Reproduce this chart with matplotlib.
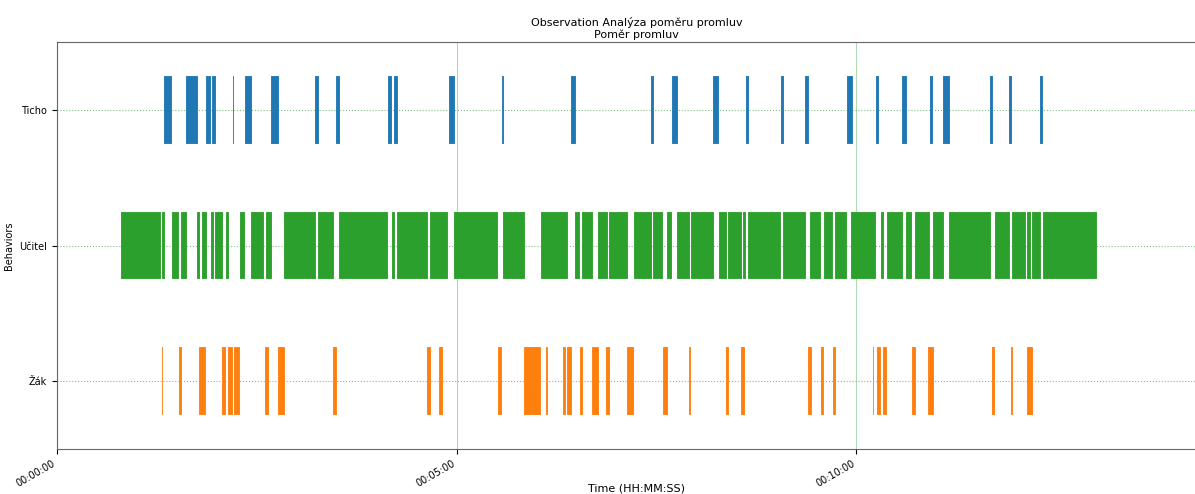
import matplotlib
matplotlib.use("Agg")
import matplotlib.pyplot as plt
from matplotlib.ticker import FuncFormatter

behaviors = ["Žák", "Učitel", "Ticho"]
colors = ["tab:orange", "tab:green", "tab:blue"]

# (start s, duration s)
ticho = [(80.6, 5.8), (97.1, 8.8), (111.9, 4.0), (116.6, 3.0), (131.9, 1.0),
         (140.9, 5.7), (160.9, 5.5), (193.9, 3.0), (209.7, 2.8), (248.5, 3.2),
         (252.8, 3.2), (294.1, 4.7), (333.9, 1.5), (386.1, 3.5), (446.2, 2.2),
         (461.5, 4.9), (492.7, 4.5), (517.3, 2.4), (543.3, 2.7), (561.6, 3.0),
         (592.6, 4.5), (614.6, 2.2), (634.4, 3.7), (655.6, 2.1), (665.2, 5.0),
         (700.5, 2.0), (714.7, 2.3), (738.0, 2.2)]

ucitel = [(48.0, 29.9), (79.1, 2.2), (86.1, 5.5), (92.9, 4.7), (105.3, 2.3),
          (108.6, 4.0), (115.6, 2.5), (118.8, 6.0), (126.9, 2.5), (137.2, 3.7),
          (145.9, 9.7), (156.9, 4.5), (170.2, 24.2), (196.2, 11.5), (211.5, 37.0),
          (251.3, 2.5), (255.0, 23.5), (280.3, 13.5), (298.0, 33.3), (334.8, 16.3),
          (363.4, 20.0), (389.1, 3.8), (393.9, 8.5), (406.2, 7.2), (414.4, 13.8),
          (432.7, 13.8), (447.7, 7.3), (457.9, 4.0), (465.7, 9.3), (475.7, 17.5),
          (496.5, 6.5), (503.8, 10.5), (515.2, 2.1), (518.8, 24.7), (544.8, 17.3),
          (565.5, 8.1), (575.3, 7.5), (583.8, 9.0), (596.1, 18.8), (618.4, 2.2),
          (622.9, 12.0), (637.2, 4.5), (643.9, 11.0), (657.7, 8.0), (669.4, 31.5),
          (703.7, 11.5), (716.7, 10.8), (728.2, 2.5), (732.0, 6.5), (739.7, 40.6)]

zak = [(78.6, 1.0), (91.8, 1.8), (106.8, 5.3), (124.1, 2.8), (128.4, 3.7),
       (132.9, 4.3), (156.4, 3.0), (166.1, 4.8), (207.4, 2.6), (278.0, 2.6),
       (287.0, 3.0), (330.9, 3.4), (350.8, 12.3), (367.1, 1.5), (379.9, 2.2),
       (383.1, 3.8), (392.9, 2.0), (401.7, 5.0), (412.4, 2.5), (427.9, 4.8),
       (454.7, 4.0), (474.5, 1.7), (502.0, 2.3), (513.7, 2.8), (564.0, 2.3),
       (573.1, 2.5), (582.6, 2.0), (612.1, 1.3), (615.8, 3.0), (619.9, 3.4),
       (641.9, 2.7), (654.1, 4.3), (701.7, 2.3), (716.0, 1.2), (727.7, 4.8)]

series = [zak, ucitel, ticho]
x_ticks = [0, 300, 600]

fig = plt.figure(figsize=(11.95, 4.94), dpi=100)
ax = fig.add_axes([0.0477, 0.091, 0.97, 0.824])

bar_h = 0.5
for i, (segs, c) in enumerate(zip(series, colors)):
    ax.broken_barh(segs, (i - bar_h / 2, bar_h), facecolors=c,
                   edgecolor=(1, 1, 1, 0.3), linewidth=0.3)

ax.set_ylim(-0.5, 2.5)
ax.set_xlim(0, 870)
ax.set_yticks(range(len(behaviors)))
ax.set_yticklabels(behaviors, fontsize=7)
ax.set_xticks(x_ticks)
ax.xaxis.set_major_formatter(FuncFormatter(
    lambda v, p: "%02d:%02d:%02d" % (int(v) // 3600, (int(v) % 3600) // 60, int(v) % 60)))
plt.setp(ax.get_xticklabels(), rotation=30, ha="right", fontsize=7)

ax.yaxis.grid(True, color="green", linestyle=":", linewidth=0.8, alpha=0.5)
ax.xaxis.grid(True, color="green", linestyle="-", linewidth=0.8, alpha=0.3)
ax.set_axisbelow(True)

for s in ax.spines.values():
    s.set_color("#666666")
ax.spines["right"].set_visible(False)

ax.set_xlabel("Time (HH:MM:SS)", fontsize=8, va="center")
ax.xaxis.set_label_coords(0.5, -0.098)
ax.set_ylabel("Behaviors", fontsize=7)
ax.set_title("Observation Analýza poměru promluv\nPoměr promluv", fontsize=8, pad=3)

fig.savefig("out.png", dpi=100)
